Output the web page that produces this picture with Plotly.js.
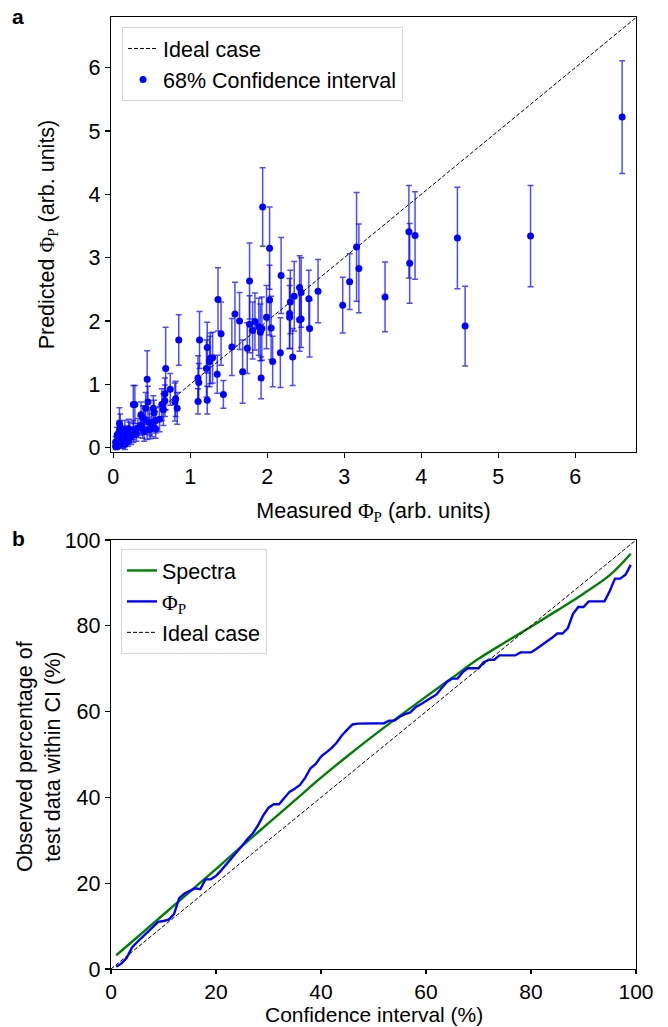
<!DOCTYPE html>
<html>
<head>
<meta charset="utf-8">
<script src="https://cdn.plot.ly/plotly-3.0.1.min.js"></script>
<style>html,body{margin:0;padding:0;background:#fff;}#chart{width:668px;height:1027px;}</style>
</head>
<body>
<div id="chart"></div>
<script>
// ---- Panel a: measured vs predicted (with 68% CI half-widths) ----
const measured = [6.61,5.42,4.57,4.47,3.92,3.85,3.84,3.53,3.19,3.16,3.07,2.98,2.66,2.55,2.54,2.44,2.44,2.42,2.42,2.35,2.33,2.30,2.29,2.29,2.18,2.17,2.07,2.05,2.03,2.03,1.99,1.94,1.93,1.92,1.91,1.89,1.84,1.81,1.77,1.77,1.74,1.68,1.64,1.58,1.54,1.43,1.40,1.36,1.35,1.29,1.26,1.25,1.22,1.21,1.22,1.12,1.11,1.10,1.10,0.85,0.83,0.81,0.80,0.74,0.68,0.67,0.67,0.65,0.55,0.55,0.53,0.52,0.48,0.47,0.45,0.44,0.44,0.42,0.41,0.39,0.38,0.35,0.32,0.28,0.26,0.26,0.26,0.23,0.21,0.20,0.18,0.16,0.15,0.15,0.15,0.12,0.09,0.09,0.09,0.08,0.08,0.06,0.05,0.05,0.03,0.03,0.12,0.19,0.30,0.36,0.50,0.60,0.63,0.40];
const predicted = [5.22,3.34,1.92,3.31,3.35,2.91,3.41,2.38,2.83,3.17,2.62,2.25,2.47,1.88,2.35,2.45,2.03,2.02,2.53,2.39,1.43,2.30,2.06,2.12,2.72,1.50,1.36,1.89,2.33,3.15,2.06,3.80,1.88,1.10,1.82,1.91,1.99,1.85,1.95,2.63,1.57,1.20,2.00,2.11,1.59,0.84,1.80,2.34,1.16,1.42,1.41,1.36,1.58,1.25,0.75,1.70,1.03,1.10,0.73,1.70,0.62,0.77,0.72,0.92,1.25,0.85,0.74,0.60,0.43,0.30,0.55,0.62,0.29,0.40,0.72,1.08,0.28,0.62,0.44,0.46,0.30,0.35,0.31,0.68,0.68,0.28,0.20,0.17,0.25,0.30,0.15,0.22,0.28,0.13,0.05,0.09,0.20,0.33,0.05,0.38,0.28,0.15,0.20,0.02,0.09,0.02,0.18,0.10,0.22,0.52,0.35,0.45,0.68,0.25];
const ciHalf = [0.89,0.80,0.63,0.80,0.69,0.63,0.73,0.55,0.70,0.86,0.44,0.44,0.50,0.45,0.45,0.55,0.45,0.50,0.50,0.55,0.45,0.50,0.50,0.55,0.60,0.55,0.40,0.50,0.55,0.65,0.50,0.62,0.50,0.33,0.45,0.45,0.45,0.45,0.45,0.60,0.40,0.50,0.45,0.50,0.45,0.22,0.50,0.50,0.30,0.40,0.40,0.40,0.40,0.45,0.22,0.45,0.30,0.35,0.20,0.40,0.25,0.28,0.30,0.25,0.65,0.25,0.25,0.25,0.20,0.15,0.20,0.20,0.15,0.20,0.25,0.45,0.15,0.25,0.20,0.20,0.15,0.15,0.15,0.30,0.30,0.15,0.12,0.12,0.15,0.15,0.10,0.12,0.15,0.10,0.08,0.10,0.12,0.20,0.06,0.25,0.15,0.10,0.12,0.05,0.08,0.05,0.10,0.08,0.12,0.20,0.18,0.20,0.25,0.15];
const idealA = [0, 6.8];

// ---- Panel b: calibration curves ----
const ciSpectra = [1,5,10,15,20,25,30,35,40,45,50,55,60,65,70,75,80,85,90,95,99];
const obsSpectra = [3.2,7.4,12.7,18.0,23.3,28.7,34.0,39.3,44.6,49.6,54.4,59.0,63.5,67.9,72.3,76.1,79.8,83.6,87.5,91.8,96.8];
const ciPhi = [1,2,3,4,5,6,7,8,9,10,11,12,13,14,15,16,17,18,19,20,21,22,23,24,25,26,27,28,29,30,31,32,33,34,35,36,37,38,39,40,41,42,43,44,45,46,47,48,49,50,51,52,53,54,55,56,57,58,59,60,61,62,63,64,65,66,67,68,69,70,71,72,73,74,75,76,77,78,79,80,81,82,83,84,85,86,87,88,89,90,91,92,93,94,95,96,97,98,99];
const obsPhi = [0.5,1.3,2.6,5.0,6.3,7.5,8.8,9.8,11.0,11.2,11.5,12.8,16.5,17.6,18.3,18.8,18.6,20.9,20.9,21.7,23.0,24.4,25.8,27.2,28.8,30.3,31.6,33.5,35.8,37.6,38.4,38.4,39.8,41.3,42.0,42.9,44.6,46.8,47.8,49.5,50.5,51.5,52.8,54.5,55.8,57.0,57.2,57.2,57.2,57.3,57.3,57.3,57.9,57.9,58.8,59.4,59.8,61.0,61.7,62.5,63.3,64.0,65.5,66.9,67.7,67.7,69.2,70.1,70.1,70.1,71.5,72.1,72.1,73.1,73.1,73.1,73.1,73.8,73.8,73.8,74.6,75.4,76.2,77.2,78.2,78.2,79.4,82.8,84.4,84.4,85.7,85.7,85.7,85.7,88.1,91.0,91.0,91.9,94.2];
const idealB = [0, 100];

const PHI = '<span style="font-family:Liberation Serif">Φ<sub>P</sub></span>';
const FONT = 'Liberation Sans, Arial, sans-serif';
const FS = 21.5;

const traces = [
  {x: idealA, y: idealA, mode: 'lines', name: 'Ideal case', xaxis: 'x', yaxis: 'y',
   line: {color: '#000', width: 1, dash: '4px,2px'}, legend: 'legend'},
  {x: measured, y: predicted, mode: 'markers', name: '68% Confidence interval', xaxis: 'x', yaxis: 'y',
   marker: {color: '#0000ff', size: 7},
   error_y: {type: 'data', array: ciHalf, visible: true, color: 'rgba(0,0,255,0.7)', thickness: 1.5, width: 3},
   legend: 'legend'},
  {x: ciSpectra, y: obsSpectra, mode: 'lines', name: 'Spectra', xaxis: 'x2', yaxis: 'y2',
   line: {color: '#008000', width: 2.4, shape: 'spline'}, legend: 'legend2'},
  {x: ciPhi, y: obsPhi, mode: 'lines', name: PHI, xaxis: 'x2', yaxis: 'y2',
   line: {color: '#0000ff', width: 2.4}, legend: 'legend2'},
  {x: idealB, y: idealB, mode: 'lines', name: 'Ideal case', xaxis: 'x2', yaxis: 'y2',
   line: {color: '#000', width: 1, dash: '4px,2px'}, legend: 'legend2'}
];

const axisCommon = {
  showline: true, mirror: true, linecolor: '#000', linewidth: 1.2,
  ticks: 'outside', ticklen: 5, tickwidth: 1.2, tickcolor: '#000',
  showgrid: false, zeroline: false,
  tickfont: {family: FONT, size: FS, color: '#000'}
};

const layout = {
  width: 668, height: 1027,
  margin: {l: 111, r: 32, t: 17, b: 58},
  paper_bgcolor: '#fff', plot_bgcolor: '#fff',
  font: {family: FONT, size: FS, color: '#000'},
  xaxis: Object.assign({}, axisCommon, {
    domain: [0, 1], anchor: 'y', range: [-0.03, 6.79], tickvals: [0,1,2,3,4,5,6],
    title: {text: 'Measured ' + PHI + ' (arb. units)', font: {family: FONT, size: FS}, standoff: 14}
  }),
  yaxis: Object.assign({}, axisCommon, {
    domain: [0.543, 1], anchor: 'x', range: [-0.07, 6.80], tickvals: [0,1,2,3,4,5,6],
    title: {text: 'Predicted ' + PHI + ' (arb. units)', font: {family: FONT, size: FS}, standoff: 28}
  }),
  xaxis2: Object.assign({}, axisCommon, {
    domain: [0, 1], anchor: 'y2', range: [0, 100], tickvals: [0,20,40,60,80,100], ticklen: 4,
    tickfont: {family: FONT, size: 21, color: '#000'}
  }),
  yaxis2: Object.assign({}, axisCommon, {
    domain: [0, 0.4506], anchor: 'x2', range: [0, 100], tickvals: [0,20,40,60,80,100]
  }),
  showlegend: true,
  legend: {x: 0.021, y: 0.9895, xanchor: 'left', yanchor: 'top', bgcolor: '#fff',
    bordercolor: '#d6d6d6', borderwidth: 1, font: {family: FONT, size: FS}, tracegroupgap: 0},
  legend2: {x: 0.019, y: 0.4412, xanchor: 'left', yanchor: 'top', bgcolor: '#fff',
    bordercolor: '#d6d6d6', borderwidth: 1, font: {family: FONT, size: FS}, tracegroupgap: 0},
  annotations: [
    {text: '<b>a</b>', xref: 'paper', yref: 'paper', x: -0.177, y: 1.001, xanchor: 'center', yanchor: 'middle',
     showarrow: false, font: {family: FONT, size: 21, color: '#000'}},
    {text: '<b>b</b>', xref: 'paper', yref: 'paper', x: -0.177, y: 0.4527, xanchor: 'center', yanchor: 'middle',
     showarrow: false, font: {family: FONT, size: 21, color: '#000'}},
    {text: 'Confidence interval (%)', xref: 'paper', yref: 'paper', x: 0.5, y: -0.0609, xanchor: 'center', yanchor: 'bottom',
     showarrow: false, borderpad: 0, font: {family: FONT, size: 21, color: '#000'}},
    {text: 'Observed percentage of<br>test data within CI (%)', xref: 'paper', yref: 'paper', x: -0.137, y: 0.2227,
     xanchor: 'center', yanchor: 'middle', textangle: -90,
     showarrow: false, font: {family: FONT, size: FS, color: '#000'}}
  ]
};

Plotly.newPlot('chart', traces, layout, {displayModeBar: false, staticPlot: true});
</script>
</body>
</html>
